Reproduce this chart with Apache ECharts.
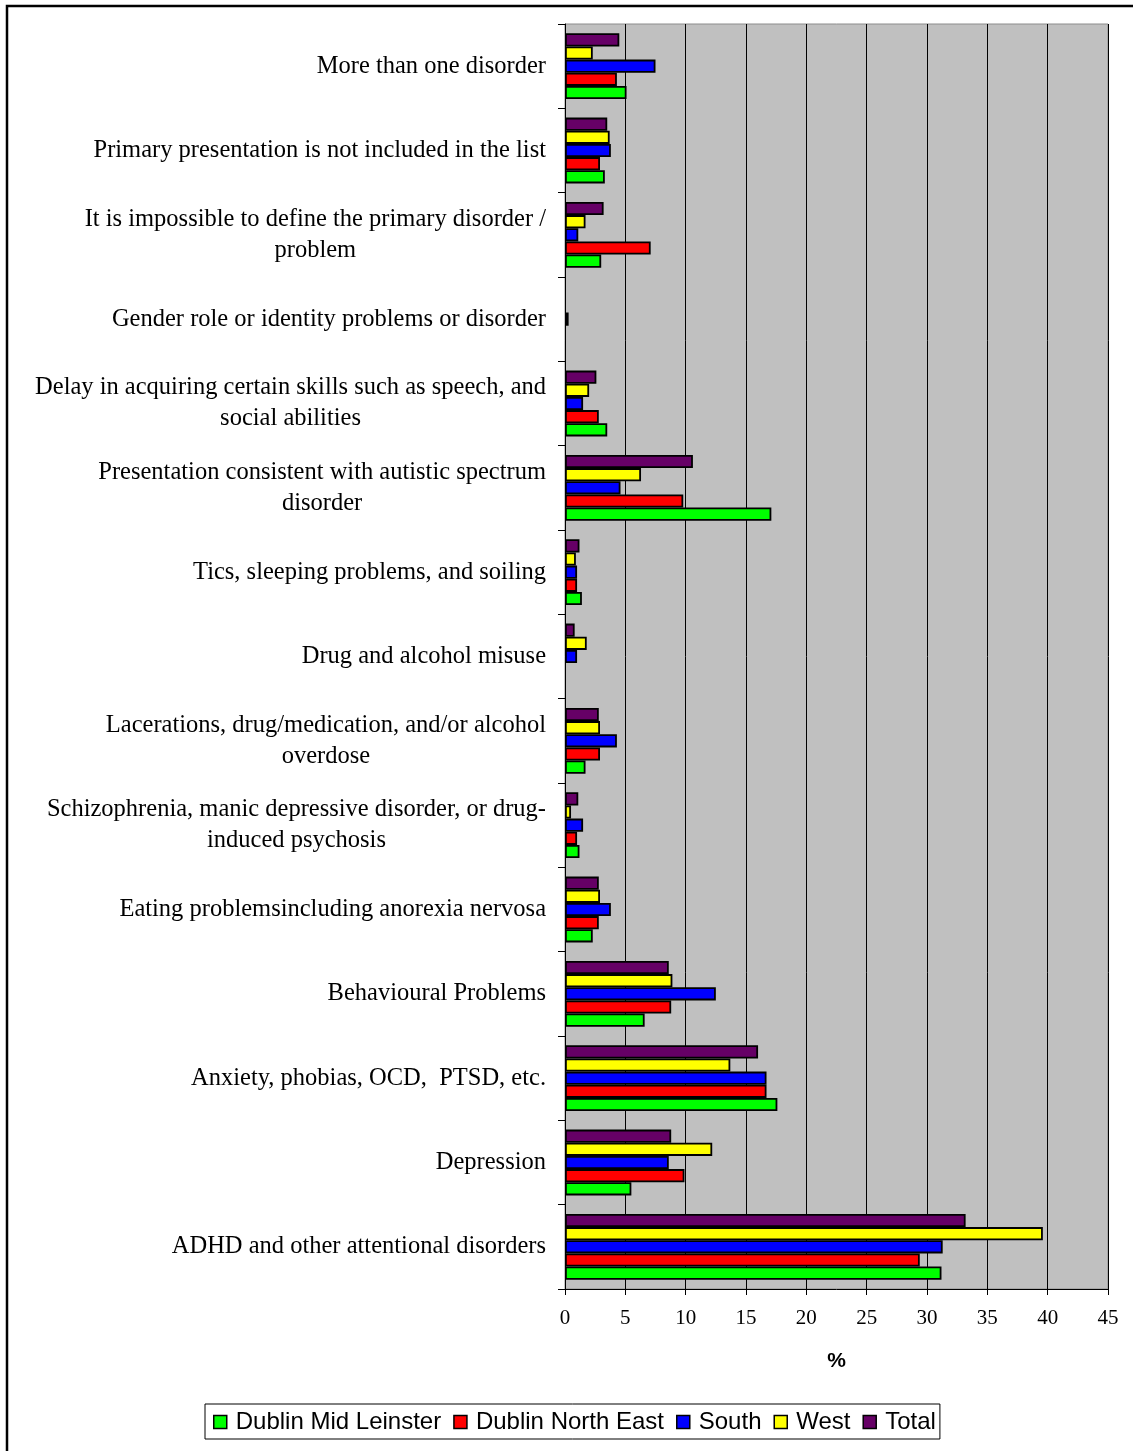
<!DOCTYPE html>
<html>
<head>
<meta charset="utf-8">
<script src="https://cdn.jsdelivr.net/npm/echarts@6/dist/echarts.min.js"></script>
<style>
html,body{margin:0;padding:0;background:#fff;}
#chart{width:1133px;height:1451px;}
</style>
</head>
<body>
<div id="chart"></div>
<script>
// Categories, listed from bottom to top of the chart
const categories = [
  "ADHD and other attentional disorders",
  "Depression",
  "Anxiety, phobias, OCD,  PTSD, etc.",
  "Behavioural Problems",
  "Eating problemsincluding anorexia nervosa",
  "Schizophrenia, manic depressive disorder, or drug-\ninduced psychosis",
  "Lacerations, drug/medication, and/or alcohol\noverdose",
  "Drug and alcohol misuse",
  "Tics, sleeping problems, and soiling",
  "Presentation consistent with autistic spectrum\ndisorder",
  "Delay in acquiring certain skills such as speech, and\nsocial abilities",
  "Gender role or identity problems or disorder",
  "It is impossible to define the primary disorder /\nproblem",
  "Primary presentation is not included in the list",
  "More than one disorder"
];
const seriesNames = ["Dublin Mid Leinster", "Dublin North East", "South", "West", "Total"];
const dublinMidLeinster = [31.2, 5.5, 17.6, 6.6, 2.3, 1.2, 1.7, 0, 1.4, 17.1, 3.5, 0, 3.0, 3.3, 5.1];
const dublinNorthEast   = [29.4, 9.9, 16.7, 8.8, 2.8, 1.0, 2.9, 0, 1.0, 9.8, 2.8, 0, 7.1, 2.9, 4.3];
const south             = [31.3, 8.6, 16.7, 12.5, 3.8, 1.5, 4.3, 1.0, 1.0, 4.6, 1.5, 0.3, 1.1, 3.8, 7.5];
const west              = [39.6, 12.2, 13.7, 8.9, 2.9, 0.5, 2.9, 1.8, 0.9, 6.3, 2.0, 0, 1.7, 3.7, 2.3];
const total             = [33.2, 8.8, 16.0, 8.6, 2.8, 1.1, 2.8, 0.8, 1.2, 10.6, 2.6, 0, 3.2, 3.5, 4.5];
const xTicks = { min: 0, max: 45, interval: 5 };
const xAxisName = "%";

const seriesData = [dublinMidLeinster, dublinNorthEast, south, west, total];
const colors = ["#00FF00", "#FF0000", "#0000FF", "#FFFF00", "#660066"];

// ECharts stacks horizontal bar series top-down, so feed them in reverse order
const order = [4, 3, 2, 1, 0];

const chart = echarts.init(document.getElementById('chart'), null, {renderer: 'canvas'});
const option = {
  animation: false,
  backgroundColor: '#ffffff',
  grid: {
    left: 565, right: 25, top: 24, bottom: 1451 - 1289,
    show: true, backgroundColor: '#C0C0C0', borderColor: '#8c8c8c', borderWidth: 1
  },
  legend: {
    data: seriesNames,
    left: 205, top: 1404,
    orient: 'horizontal',
    borderColor: '#000', borderWidth: 1,
    padding: [6, 4, 5, 8],
    itemGap: 12,
    itemWidth: 13, itemHeight: 13,
    icon: 'rect',
    itemStyle: { borderColor: '#000', borderWidth: 1.5 },
    textStyle: { fontFamily: 'Liberation Sans', fontSize: 24, color: '#000', padding: [0, 0, 0, 4] }
  },
  xAxis: {
    type: 'value',
    min: xTicks.min, max: xTicks.max, interval: xTicks.interval,
    name: xAxisName,
    nameLocation: 'middle',
    nameGap: 62,
    nameTextStyle: { fontFamily: 'Liberation Sans', fontSize: 21, fontWeight: 'bold', color: '#000' },
    axisLine: { show: true, lineStyle: { color: '#000', width: 1 } },
    axisTick: { show: true, length: 6, lineStyle: { color: '#000' } },
    axisLabel: { margin: 19, fontFamily: 'Liberation Serif', fontSize: 21, color: '#000' },
    splitLine: { show: true, lineStyle: { color: '#000', width: 1 } }
  },
  yAxis: {
    type: 'category',
    data: categories,
    axisLine: { show: true, lineStyle: { color: '#000', width: 1 } },
    axisTick: { show: true, length: 7, lineStyle: { color: '#000' } },
    axisLabel: {
      margin: 19,
      interval: 0,
      formatter: function (v) {
        return v.split('\n').map(function (l) { return '{c|' + l + '}'; }).join('\n');
      },
      rich: {
        c: { fontFamily: 'Liberation Serif', fontSize: 24.5, lineHeight: 31, color: '#000', align: 'center' }
      }
    },
    splitLine: { show: false }
  },
  series: order.map(function (i) {
    return {
      name: seriesNames[i],
      type: 'bar',
      data: seriesData[i].map(function (v) { return v === 0 ? null : v; }),
      barGap: '0%',
      barCategoryGap: '22%',
      itemStyle: { color: colors[i], borderColor: '#000', borderWidth: 1.8 },
      emphasis: { disabled: true }
    };
  }),
  graphic: [{
    type: 'rect',
    shape: { x: 7, y: 6, width: 1140, height: 1460 },
    style: { fill: 'none', stroke: '#000', lineWidth: 2.5 },
    silent: true
  }]
};
chart.setOption(option);
</script>
</body>
</html>
